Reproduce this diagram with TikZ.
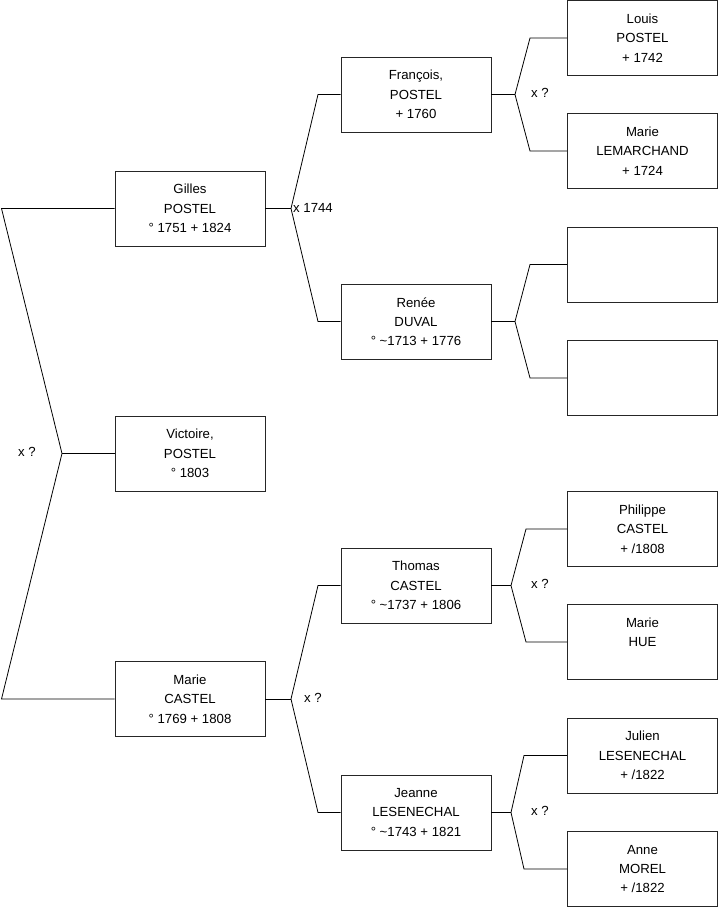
\documentclass[tikz,border=0pt]{standalone}
\usepackage{fontspec}
\setmainfont{Liberation Sans}
\begin{document}
\begin{tikzpicture}[x=1pt,y=-1pt,
  person/.style={draw=black!85, line width=0.9pt, minimum width=150pt, minimum height=75pt, inner sep=0pt, align=center, font=\fontsize{13.2}{19.3}\selectfont},
  link/.style={draw=black, line width=0.8pt},
  lab/.style={font=\fontsize{13.2}{15}\selectfont, inner sep=0pt, anchor=west}]
\useasboundingbox (0,0) rectangle (719,908);
% column 1
\node[person] (gilles) at (190,208.5) {Gilles\\POSTEL\\° 1751 + 1824};
\node[person] (victoire) at (190,453.5) {Victoire,\\POSTEL\\° 1803};
\node[person] (mcastel) at (190,699) {Marie\\CASTEL\\° 1769 + 1808};
% column 2
\node[person] (francois) at (416,94.5) {François,\\POSTEL\\+ 1760};
\node[person] (renee) at (416,321.5) {Renée\\DUVAL\\° \textasciitilde1713 + 1776};
\node[person] (thomas) at (416,585.5) {Thomas\\CASTEL\\° \textasciitilde1737 + 1806};
\node[person] (jeanne) at (416,812.5) {Jeanne\\LESENECHAL\\° \textasciitilde1743 + 1821};
% column 3
\node[person] (louis) at (642.5,38) {Louis\\POSTEL\\+ 1742};
\node[person] (mlemarchand) at (642.5,151) {Marie\\LEMARCHAND\\+ 1724};
\node[person] (empty1) at (642.5,264.5) {};
\node[person] (empty2) at (642.5,378) {};
\node[person] (philippe) at (642.5,529) {Philippe\\CASTEL\\+ /1808};
\node[person] (mhue) at (642.5,642) {Marie\\HUE\\};
\node[person] (julien) at (642.5,755.5) {Julien\\LESENECHAL\\+ /1822};
\node[person] (anne) at (642.5,869) {Anne\\MOREL\\+ /1822};
% fork coordinates
\coordinate (a0) at (62,453.5);
\coordinate (c0t) at (1.5,208.5);
\coordinate (c0b) at (1.5,699);
\coordinate (a1) at (291,208.5);
\coordinate (c1t) at (318,94.5);
\coordinate (c1b) at (318,321.5);
\coordinate (a2) at (291,699);
\coordinate (c2t) at (318,585.5);
\coordinate (c2b) at (318,812.5);
\coordinate (a3) at (515,94.5);
\coordinate (c3t) at (530,38);
\coordinate (c3b) at (530,151);
\coordinate (a4) at (515,321.5);
\coordinate (c4t) at (530,264.5);
\coordinate (c4b) at (530,378);
\coordinate (a5) at (511,585.5);
\coordinate (c5t) at (526,529);
\coordinate (c5b) at (526,642);
\coordinate (a6) at (511,812.5);
\coordinate (c6t) at (524,755.5);
\coordinate (c6b) at (524,869);
% connectors
\draw[link] (victoire.west) -- (a0);
\draw[link] (gilles.west) -- (c0t) -- (a0) -- (c0b) -- (mcastel.west);
\draw[link] (gilles.east) -- (a1);
\draw[link] (francois.west) -- (c1t) -- (a1) -- (c1b) -- (renee.west);
\draw[link] (mcastel.east) -- (a2);
\draw[link] (thomas.west) -- (c2t) -- (a2) -- (c2b) -- (jeanne.west);
\draw[link] (francois.east) -- (a3);
\draw[link] (louis.west) -- (c3t) -- (a3) -- (c3b) -- (mlemarchand.west);
\draw[link] (renee.east) -- (a4);
\draw[link] (empty1.west) -- (c4t) -- (a4) -- (c4b) -- (empty2.west);
\draw[link] (thomas.east) -- (a5);
\draw[link] (philippe.west) -- (c5t) -- (a5) -- (c5b) -- (mhue.west);
\draw[link] (jeanne.east) -- (a6);
\draw[link] (julien.west) -- (c6t) -- (a6) -- (c6b) -- (anne.west);
% labels
\node[lab] (l0) at (18,452) {x ?};
\node[lab] (l1) at (293,207.5) {x 1744};
\node[lab] (l2) at (304,698) {x ?};
\node[lab] (l3) at (531,93) {x ?};
\node[lab] (l5) at (531,583.5) {x ?};
\node[lab] (l6) at (531,810.5) {x ?};
\end{tikzpicture}
\end{document}
